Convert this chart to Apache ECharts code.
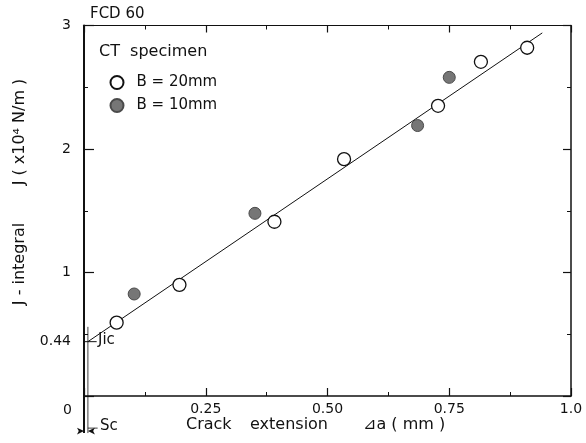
<!DOCTYPE html>
<html>
<head>
<meta charset="utf-8">
<script src="https://cdn.jsdelivr.net/npm/echarts@6/dist/echarts.min.js"></script>
<style>html,body{margin:0;padding:0;background:#fff}#c{width:586px;height:443px}</style>
</head>
<body>
<div id="c"></div>
<script>
// ---- data ----
const openX   = [0.067, 0.196, 0.391, 0.534, 0.727, 0.815, 0.910];
const openY   = [0.594, 0.900, 1.411, 1.918, 2.350, 2.706, 2.820];
const filledX = [0.103, 0.351, 0.685, 0.750];
const filledY = [0.826, 1.479, 2.190, 2.580];
const Jic = 0.44;          // J-integral at initiation (x10^4 N/m)
const Sc = 0.008;          // stretch zone offset (mm)
const fitEnd = [0.941, 2.94];
const xTicks = [0, 0.25, 0.5, 0.75, 1.0];
const xTickLabels = ['', '0.25', '0.50', '0.75', '1.0'];
const yLabelValues = [0.44, 1, 2, 3];
const yBelow = -0.3;       // extension of lines below the origin
const arrowY = -0.26;
const arrowLeftFrom = -0.03, arrowRightFrom = 0.028;

const FONT = 'DejaVu Sans';
const BLACK = '#111';

const chart = echarts.init(document.getElementById('c'), null, {renderer: 'canvas'});

function axisLine(w) { return {show: true, onZero: false, lineStyle: {color: BLACK, width: w}}; }
function ticks(len) { return {show: true, inside: true, length: len, lineStyle: {color: BLACK, width: 1.2}}; }
const minor = {show: true, splitNumber: 2, length: 4, lineStyle: {color: BLACK, width: 1}};

function guide(name, data, width, extra) {
  return Object.assign({
    type: 'line', name: name, silent: true, clip: false, z: 2,
    symbol: 'none', lineStyle: {color: BLACK, width: width}, data: data
  }, extra || {});
}

const option = {
  animation: false,
  backgroundColor: '#fff',
  grid: {left: 84, right: 15, top: 25.5, bottom: 47, containLabel: false},
  xAxis: [
    {
      type: 'value', position: 'bottom', min: 0, max: 1, interval: 0.25,
      axisLine: axisLine(1.5), axisTick: ticks(8), minorTick: minor, splitLine: {show: false},
      axisLabel: {
        show: true, margin: 6, color: BLACK, fontFamily: FONT, fontSize: 14,
        formatter: v => { const i = xTicks.findIndex(t => Math.abs(t - v) < 1e-9); return i >= 0 ? xTickLabels[i] : ''; }
      }
    },
    {
      type: 'value', position: 'top', min: 0, max: 1, interval: 0.25,
      axisLine: axisLine(1.2), axisTick: ticks(7), minorTick: minor, splitLine: {show: false},
      axisLabel: {show: false}
    }
  ],
  yAxis: [
    {
      type: 'value', position: 'left', min: 0, max: 3, interval: 1,
      axisLine: axisLine(2), axisTick: ticks(10), minorTick: minor, splitLine: {show: false},
      axisLabel: {
        show: true, margin: 13, color: BLACK, fontFamily: FONT, fontSize: 14,
        customValues: yLabelValues,
        formatter: v => (Math.abs(v) < 1e-9 ? '' : (Math.abs(v - Jic) < 1e-9 ? '0.44' : String(v)))
      }
    },
    {
      type: 'value', position: 'right', min: 0, max: 3, interval: 1,
      axisLine: axisLine(1.5), axisTick: ticks(8), minorTick: minor, splitLine: {show: false},
      axisLabel: {show: false}
    }
  ],
  legend: {
    orient: 'vertical', left: 109.5, top: 75, padding: 0,
    itemWidth: 13, itemHeight: 13, itemGap: 8,
    textStyle: {fontFamily: FONT, fontSize: 15, color: BLACK, padding: [0, 0, 0, 8]},
    data: ['B = 20mm', 'B = 10mm']
  },
  series: [
    guide('fit', [[Sc, Jic], fitEnd], 1),
    guide('axisExt', [[0, 0], [0, yBelow]], 2),
    guide('scLine', [[Sc, yBelow], [Sc, Jic + 0.12]], 0.8),
    guide('jicTick', [[-0.025, Jic], [0.026, Jic]], 1),
    guide('arrowL', [
      {value: [arrowLeftFrom, arrowY], symbol: 'none'},
      {value: [0, arrowY], symbol: 'arrow', symbolSize: [5, 7], symbolRotate: -90, symbolOffset: [0, 3]}
    ], 0.8, {symbol: 'arrow', showSymbol: true, itemStyle: {color: BLACK}}),
    guide('arrowR', [
      {value: [arrowRightFrom, arrowY], symbol: 'none'},
      {value: [Sc, arrowY], symbol: 'arrow', symbolSize: [5, 7], symbolRotate: 90, symbolOffset: [0, 3]}
    ], 0.8, {symbol: 'arrow', showSymbol: true, itemStyle: {color: BLACK}}),
    {
      type: 'scatter', name: 'B = 20mm', symbol: 'circle', symbolSize: 13, z: 5,
      itemStyle: {color: '#fff', borderColor: BLACK, borderWidth: 1.3, opacity: 1},
      data: openX.map((x, i) => [x, openY[i]])
    },
    {
      type: 'scatter', name: 'B = 10mm', symbol: 'circle', symbolSize: 12, z: 5,
      itemStyle: {color: '#767676', borderColor: '#4a4a4a', borderWidth: 1, opacity: 1},
      data: filledX.map((x, i) => [x, filledY[i]])
    }
  ],
  graphic: [
    {type: 'text', left: 90, top: 7, style: {text: 'FCD 60', font: '15px "DejaVu Sans"', fill: BLACK}},
    {type: 'text', left: 99, top: 44, style: {text: 'CT  specimen', font: '16px "DejaVu Sans"', fill: BLACK}},
    {type: 'text', left: 63, top: 403, style: {text: '0', font: '14px "DejaVu Sans"', fill: BLACK}},
    {type: 'text', left: 98, top: 333, style: {text: 'Jic', font: '15px "DejaVu Sans"', fill: BLACK}},
    {type: 'text', left: 100, top: 419, style: {text: 'Sc', font: '15px "DejaVu Sans"', fill: BLACK}},
    {type: 'text', left: 186, top: 417, style: {text: 'Crack', font: '16px "DejaVu Sans"', fill: BLACK}},
    {type: 'text', left: 250, top: 417, style: {text: 'extension', font: '16px "DejaVu Sans"', fill: BLACK}},
    {type: 'text', left: 363, top: 417, style: {text: '⊿a ( mm )', font: '16px "DejaVu Sans"', fill: BLACK}},
    {type: 'text', x: 20, y: 264, rotation: Math.PI / 2,
     style: {text: 'J - integral', font: '16px "DejaVu Sans"', fill: BLACK, align: 'center', verticalAlign: 'middle'}},
    {type: 'text', x: 20, y: 132, rotation: Math.PI / 2,
     style: {text: 'J ( x10⁴ N/m )', font: '16px "DejaVu Sans"', fill: BLACK, align: 'center', verticalAlign: 'middle'}}
  ]
};
chart.setOption(option);
</script>
</body>
</html>
